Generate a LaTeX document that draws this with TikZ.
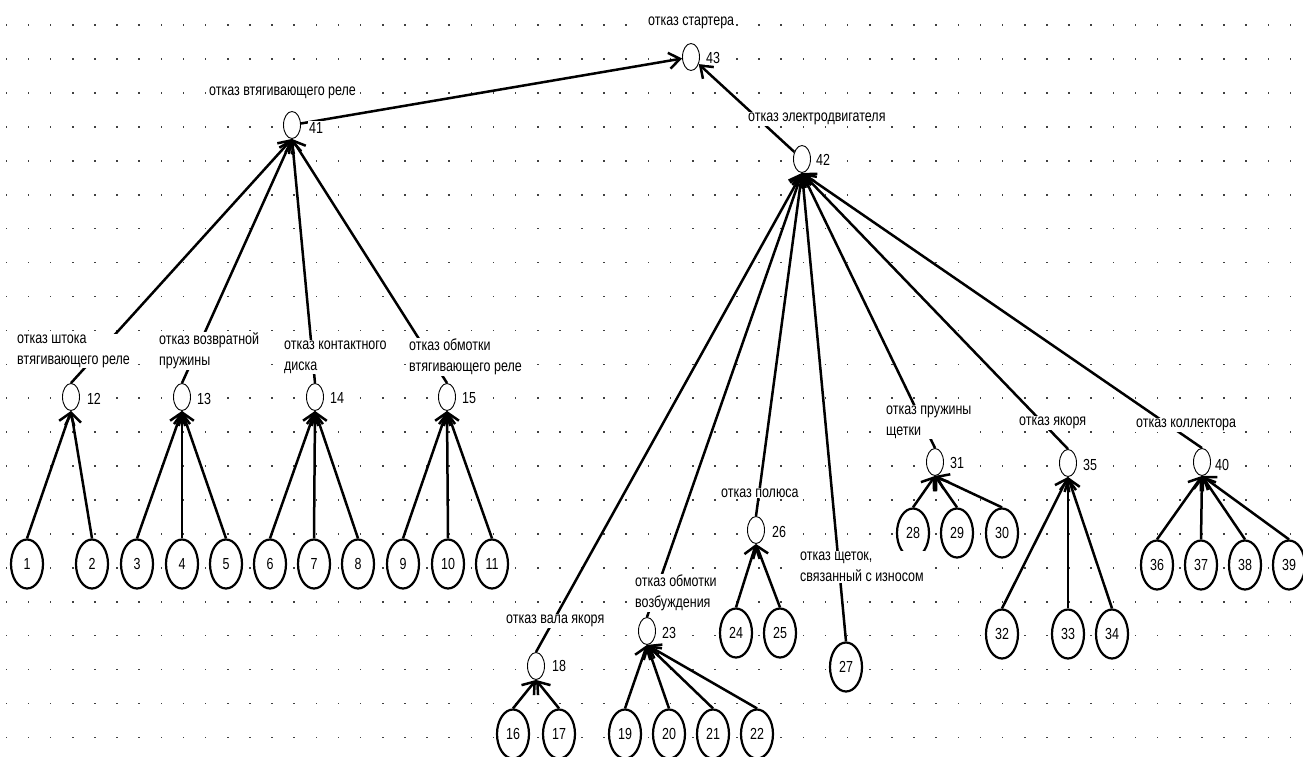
\documentclass[tikz,border=0pt]{standalone}
\usepackage{fontspec}
\setmainfont[FakeStretch=0.78]{Liberation Sans}
\usetikzlibrary{shapes.geometric,arrows.meta}
\begin{document}
\begin{tikzpicture}[x=1pt,y=-1pt,
        gate/.style={draw,ellipse,fill=white,minimum width=17pt,minimum height=27pt,inner sep=0pt,line width=0.9pt},
        basic/.style={draw,ellipse,fill=white,minimum width=32pt,minimum height=49pt,inner sep=0pt,line width=2.2pt},
        txt/.style={fill=white,inner sep=1pt,anchor=west,align=left},
        num/.style={fill=white,inner sep=1pt},
        conn/.style={->,line width=2.5pt},
        >={Straight Barb[length=11pt,width=16pt]},
        font=\fontsize{16}{21}\selectfont]
        \useasboundingbox (0,0) rectangle (1303,757);
        \foreach \i in {0,...,58}
            \foreach \j in {0,...,21}
                \fill[black!75] ({5.56+22.14*\i},{24.3+33.92*\j}) rectangle +(1.6,1.6);
        % gates
        \node[gate] (g43) at (691,57) {};
        \node[gate] (g41) at (292,125) {};
        \node[gate] (g42) at (802,159) {};
        \node[gate] (g12) at (71,397) {};
        \node[gate] (g13) at (182,397) {};
        \node[gate] (g14) at (315,397) {};
        \node[gate] (g15) at (447,397) {};
        \node[gate] (g18) at (536,666) {};
        \node[gate] (g23) at (647,631) {};
        \node[gate] (g26) at (756,530) {};
        \node[gate] (g31) at (935,462) {};
        \node[gate] (g35) at (1068,463) {};
        \node[gate] (g40) at (1202,462) {};
        % basic events
        \node[basic] (b1) at (27,564) {1};
        \node[basic] (b2) at (92,564) {2};
        \node[basic] (b3) at (137,564) {3};
        \node[basic] (b4) at (182,564) {4};
        \node[basic] (b5) at (226,564) {5};
        \node[basic] (b6) at (270,564) {6};
        \node[basic] (b7) at (314,564) {7};
        \node[basic] (b8) at (358,564) {8};
        \node[basic] (b9) at (403,564) {9};
        \node[basic] (b10) at (448,564) {10};
        \node[basic] (b11) at (492,564) {11};
        \node[basic] (b16) at (513,734) {16};
        \node[basic] (b17) at (559,734) {17};
        \node[basic] (b19) at (625,734) {19};
        \node[basic] (b20) at (669,734) {20};
        \node[basic] (b21) at (713,734) {21};
        \node[basic] (b22) at (757,734) {22};
        \node[basic] (b24) at (736,633) {24};
        \node[basic] (b25) at (780,633) {25};
        \node[basic] (b27) at (846,667) {27};
        \node[basic] (b28) at (913,533) {28};
        \node[basic] (b29) at (957,533) {29};
        \node[basic] (b30) at (1002,533) {30};
        \node[basic] (b32) at (1002,634) {32};
        \node[basic] (b33) at (1068,634) {33};
        \node[basic] (b34) at (1112,634) {34};
        \node[basic] (b36) at (1157,565) {36};
        \node[basic] (b37) at (1201,565) {37};
        \node[basic] (b38) at (1245,565) {38};
        \node[basic] (b39) at (1289,565) {39};
        % connectors
        \draw[conn] (g41) -- (g43);
        \draw[conn] (g42) -- (g43);
        \foreach \c in {12,13,14,15}
            \draw[conn] (g\c.north) -- (g41.south);
        \foreach \c in {18,23,26,31,35,40}
            \draw[conn] (g\c.north) -- (g42.south);
        \draw[conn] (b27.north) -- (g42.south);
        \foreach \c in {1,2}
            \draw[conn] (b\c.north) -- (g12.south);
        \foreach \c in {3,4,5}
            \draw[conn] (b\c.north) -- (g13.south);
        \foreach \c in {6,7,8}
            \draw[conn] (b\c.north) -- (g14.south);
        \foreach \c in {9,10,11}
            \draw[conn] (b\c.north) -- (g15.south);
        \foreach \c in {16,17}
            \draw[conn] (b\c.north) -- (g18.south);
        \foreach \c in {19,20,21,22}
            \draw[conn] (b\c.north) -- (g23.south);
        \foreach \c in {24,25}
            \draw[conn] (b\c.north) -- (g26.south);
        \foreach \c in {28,29,30}
            \draw[conn] (b\c.north) -- (g31.south);
        \foreach \c in {32,33,34}
            \draw[conn] (b\c.north) -- (g35.south);
        \foreach \c in {36,37,38,39}
            \draw[conn] (b\c.north) -- (g40.south);
        % texts
        \node[txt] (t43) at (647,23) {отказ стартера};
        \node[txt] (t41) at (208,93) {отказ втягивающего реле};
        \node[txt] (t42) at (747,119) {отказ электродвигателя};
        \node[txt] (t12) at (16,351) {отказ штока\\втягивающего реле};
        \node[txt] (t13) at (158,351) {отказ возвратной\\пружины};
        \node[txt] (t14) at (283,357) {отказ контактного\\диска};
        \node[txt] (t15) at (408,357) {отказ обмотки\\втягивающего реле};
        \node[txt] (t18) at (505,621) {отказ вала якоря};
        \node[txt] (t23) at (634,593) {отказ обмотки\\возбуждения};
        \node[txt] (t26) at (720,493) {отказ полюса};
        \node[txt] (t27) at (799,567) {отказ щеток,\\связанный с износом};
        \node[txt] (t31) at (885,422) {отказ пружины\\щетки};
        \node[txt] (t35) at (1018,423) {отказ якоря};
        \node[txt] (t40) at (1135,425) {отказ коллектора};
        % numbers
        \node[num] (n43) at (713,58) {43};
        \node[num] (n41) at (316,128) {41};
        \node[num] (n42) at (823,160) {42};
        \node[num] (n12) at (94,399) {12};
        \node[num] (n13) at (204,399) {13};
        \node[num] (n14) at (337,398) {14};
        \node[num] (n15) at (469,398) {15};
        \node[num] (n18) at (559,666) {18};
        \node[num] (n23) at (669,633) {23};
        \node[num] (n26) at (779,532) {26};
        \node[num] (n31) at (957,463) {31};
        \node[num] (n35) at (1090,465) {35};
        \node[num] (n40) at (1222,465) {40};
    \end{tikzpicture}
\end{document}
